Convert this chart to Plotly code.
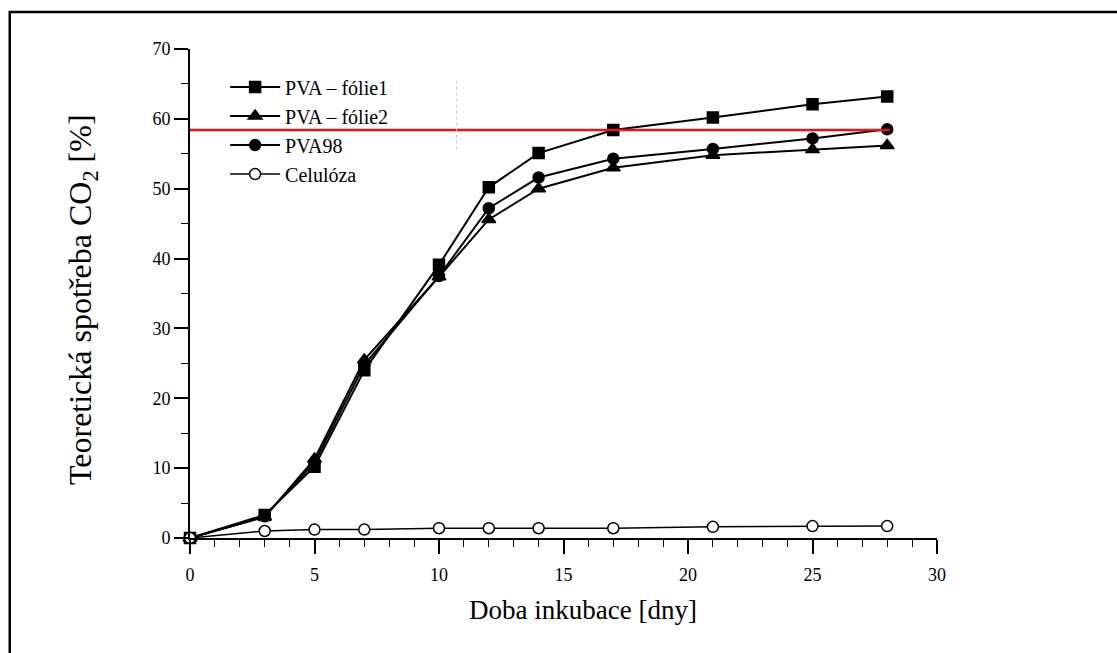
import plotly.graph_objects as go

# Incubation time [days]
days = [0, 3, 5, 7, 10, 12, 14, 17, 21, 25, 28]

# Theoretical CO2 consumption [%]
pva_folie1 = [0, 3.3, 10.2, 24.0, 39.1, 50.2, 55.1, 58.4, 60.2, 62.1, 63.2]
pva_folie2 = [0, 3.0, 11.3, 25.5, 37.4, 45.6, 50.0, 53.0, 54.8, 55.6, 56.2]
pva98 = [0, 3.1, 10.8, 24.8, 37.5, 47.2, 51.6, 54.3, 55.7, 57.2, 58.5]
celuloza = [0, 1.0, 1.2, 1.2, 1.4, 1.4, 1.4, 1.4, 1.6, 1.7, 1.7]

series_names = ["PVA – fólie1", "PVA – fólie2", "PVA98", "Celulóza"]
threshold = 58.4

FONT = "Liberation Serif"

fig = go.Figure()

styles = [
    (pva_folie1, "square", "black", 11, 2),
    (pva_folie2, "triangle-up", "black", 12, 2),
    (pva98, "circle", "black", 11, 2),
    (celuloza, "circle", "white", 11, 1.5),
]
for name, (vals, sym, fill, size, lw) in zip(series_names, styles):
    fig.add_trace(go.Scatter(
        x=days, y=vals, name=name, mode="lines+markers",
        line=dict(color="black", width=lw),
        marker=dict(symbol=sym, size=size, color=fill,
                    line=dict(color="black", width=1.5)),
        cliponaxis=False,
    ))

# Red reference level
fig.add_shape(type="line", xref="x", yref="y", x0=0, x1=28.1,
              y0=threshold, y1=threshold,
              line=dict(color="#ee1111", width=2.5), layer="above")

# Faint dotted vertical stroke
fig.add_shape(type="line", xref="x", yref="y", x0=10.7, x1=10.7,
              y0=55.6, y1=65.6,
              line=dict(color="#c8c8c8", width=1, dash="dot"))

# Outer frame
fig.add_shape(type="rect", xref="paper", yref="paper",
              x0=-0.2413, x1=1.26, y0=-0.26, y1=1.0757,
              line=dict(color="black", width=2.5))

fig.add_annotation(text="Doba inkubace [dny]", xref="paper", yref="paper",
                   x=0.526, y=-0.147, xanchor="center", yanchor="middle",
                   showarrow=False,
                   font=dict(family=FONT, size=27, color="black"))
fig.add_annotation(text="Teoretická spotřeba CO<sub>2</sub> [%]",
                   xref="paper", yref="paper", x=-0.143, y=0.487,
                   xanchor="center", yanchor="middle",
                   textangle=-90, showarrow=False,
                   font=dict(family=FONT, size=32, color="black"))

axis_common = dict(
    showgrid=False, zeroline=False, showline=True, linecolor="black",
    linewidth=1.8, ticks="outside", ticklen=14, tickwidth=1.6,
    tickcolor="black", tickfont=dict(family=FONT, size=18, color="black"),
)

fig.update_xaxes(range=[0, 30], tickvals=[0, 5, 10, 15, 20, 25, 30],
                 minor=dict(dtick=1, ticks="outside", ticklen=7,
                            tickwidth=1.4, tickcolor="black"),
                 ticklabelstandoff=5, **axis_common)
fig.update_yaxes(range=[0, 70], tickvals=[0, 10, 20, 30, 40, 50, 60, 70],
                 minor=dict(dtick=5, ticks="outside", ticklen=7,
                            tickwidth=1.4, tickcolor="black"),
                 **axis_common)

fig.update_layout(
    width=1117, height=653,
    margin=dict(l=190, r=180, t=49, b=115),
    paper_bgcolor="white", plot_bgcolor="white",
    font=dict(family=FONT, color="black"),
    showlegend=True,
    legend=dict(x=0.047, y=0.962, xanchor="left", yanchor="top",
                itemwidth=50, bgcolor="rgba(0,0,0,0)",
                font=dict(family=FONT, size=20, color="black"),
                tracegroupgap=0),
)

fig.write_html("out.html")
